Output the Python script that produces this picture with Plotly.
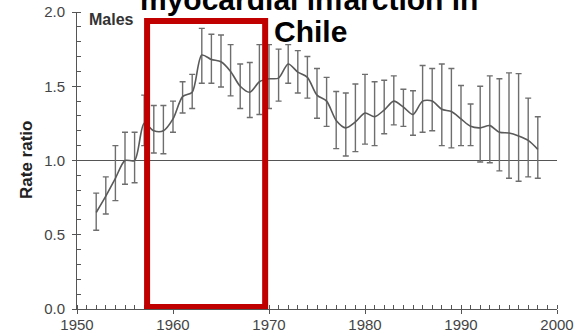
import plotly.graph_objects as go

# ---- data ----
years = list(range(1952, 1999))
rate_ratio = [0.65, 0.76, 0.88, 1.00, 1.00, 1.25, 1.20, 1.20, 1.28, 1.43,
              1.46, 1.71, 1.68, 1.665, 1.60, 1.50, 1.46, 1.53, 1.55, 1.555,
              1.65, 1.595, 1.56, 1.44, 1.40, 1.27, 1.22, 1.26, 1.32, 1.295,
              1.34, 1.40, 1.36, 1.31, 1.40, 1.40, 1.345, 1.33, 1.28, 1.23,
              1.22, 1.235, 1.19, 1.185, 1.165, 1.135, 1.075]
ci_upper = [0.78, 0.89, 1.10, 1.19, 1.19, 1.44, 1.37, 1.37, 1.40, 1.53,
            1.58, 1.89, 1.85, 1.845, 1.78, 1.65, 1.66, 1.78, 1.78, 1.75,
            1.78, 1.74, 1.70, 1.62, 1.56, 1.465, 1.455, 1.515, 1.58, 1.53,
            1.54, 1.57, 1.48, 1.47, 1.64, 1.62, 1.65, 1.62, 1.505, 1.38,
            1.50, 1.57, 1.55, 1.59, 1.585, 1.42, 1.295]
ci_lower = [0.53, 0.64, 0.73, 0.84, 0.85, 1.10, 1.05, 1.045, 1.19, 1.32,
            1.35, 1.52, 1.52, 1.495, 1.435, 1.35, 1.29, 1.31, 1.35, 1.40,
            1.52, 1.455, 1.42, 1.285, 1.23, 1.08, 1.03, 1.06, 1.11, 1.10,
            1.18, 1.24, 1.23, 1.17, 1.19, 1.20, 1.10, 1.085, 1.10, 1.10,
            0.99, 0.985, 0.93, 0.88, 0.86, 0.89, 0.88]
x_ticks = [1950, 1960, 1970, 1980, 1990, 2000]
y_ticks = [0.0, 0.5, 1.0, 1.5, 2.0]
reference_ratio = 1.0
highlight_years = [1957.3, 1969.6]
highlight_ratio = [0.013, 1.94]
title_lines = ["myocardial infarction in", "Chile"]
panel_label = "Males"
y_title = "Rate ratio"

err_plus = [u - v for u, v in zip(ci_upper, rate_ratio)]
err_minus = [v - l for v, l in zip(rate_ratio, ci_lower)]

FONT = "Liberation Sans, Arial, sans-serif"
AXIS_COLOR = "#555555"
TICK_TEXT = "#444444"

fig = go.Figure()
fig.add_trace(go.Scatter(
    x=years, y=rate_ratio, mode="lines",
    line=dict(color="#5a5a5a", width=1.6, shape="spline", smoothing=0.8),
    error_y=dict(type="data", symmetric=False, array=err_plus,
                 arrayminus=err_minus, color="#6e6e6e", thickness=1.4, width=3),
    showlegend=False, hoverinfo="skip",
))

fig.add_shape(type="line", xref="x", yref="y", x0=x_ticks[0], x1=x_ticks[-1],
              y0=reference_ratio, y1=reference_ratio,
              line=dict(color="#555555", width=1), layer="below")
fig.add_shape(type="rect", xref="x", yref="y",
              x0=highlight_years[0], x1=highlight_years[1],
              y0=highlight_ratio[0], y1=highlight_ratio[1],
              line=dict(color="#C00000", width=6), fillcolor="rgba(0,0,0,0)",
              layer="above")

L, R, T, B = 77, 20, 12, 24
W, H = 577, 333
pw, ph = W - L - R, H - T - B

def px(p):
    return (p - L) / pw

def py(q):
    return (H - B - q) / ph

fig.add_annotation(text="<b>" + title_lines[0] + "</b>", xref="paper", yref="paper",
                   x=px(309), y=py(18), xanchor="center", yanchor="bottom",
                   showarrow=False, font=dict(family=FONT, size=30, color="#000000"))
fig.add_annotation(text="<b>" + title_lines[1] + "</b>", xref="paper", yref="paper",
                   x=px(310), y=py(50), xanchor="center", yanchor="bottom",
                   showarrow=False, font=dict(family=FONT, size=30, color="#000000"))
fig.add_annotation(text="<b>" + panel_label + "</b>", xref="paper", yref="paper",
                   x=px(87), y=py(30), xanchor="left", yanchor="bottom",
                   showarrow=False, font=dict(family=FONT, size=16, color="#333333"))
fig.add_annotation(text="<b>" + y_title + "</b>", xref="paper", yref="paper",
                   x=px(26), y=py(160), xanchor="center", yanchor="middle",
                   textangle=-90, showarrow=False,
                   font=dict(family=FONT, size=17, color="#222222"))

common = dict(showgrid=False, zeroline=False, showline=True, linecolor=AXIS_COLOR,
              linewidth=1, tickcolor=AXIS_COLOR, tickwidth=1, automargin=False,
              tickfont=dict(family=FONT, size=15, color=TICK_TEXT))

fig.update_layout(
    width=W, height=H, margin=dict(l=L, r=R, t=T, b=B, autoexpand=False),
    paper_bgcolor="white", plot_bgcolor="white",
    xaxis=dict(range=[x_ticks[0], x_ticks[-1]], tickvals=x_ticks,
               ticks="outside", ticklen=4, ticklabelstandoff=-2,
               minor=dict(dtick=1, tick0=1950, ticks="inside", ticklen=4,
                          tickcolor=AXIS_COLOR, tickwidth=1),
               **common),
    yaxis=dict(range=[y_ticks[0], y_ticks[-1]], tickvals=y_ticks, tickformat=".1f",
               ticks="outside", ticklen=4, ticklabelstandoff=4,
               minor=dict(dtick=0.1, tick0=0, ticks="inside", ticklen=4,
                          tickcolor=AXIS_COLOR, tickwidth=1),
               **common),
    xaxis2=dict(overlaying="x", anchor="y", matches="x", range=[x_ticks[0], x_ticks[-1]],
                tickvals=x_ticks, ticks="inside", ticklen=3, showticklabels=False,
                showline=False, showgrid=False, zeroline=False, automargin=False,
                tickcolor=AXIS_COLOR, side="bottom"),
    yaxis2=dict(overlaying="y", anchor="x", matches="y", range=[y_ticks[0], y_ticks[-1]],
                tickvals=y_ticks, ticks="inside", ticklen=3, showticklabels=False,
                showline=False, showgrid=False, zeroline=False, automargin=False,
                tickcolor=AXIS_COLOR, side="left"),
)
fig.add_trace(go.Scatter(x=[], y=[], xaxis="x2", yaxis="y2", showlegend=False,
                         hoverinfo="skip"))

fig.write_html("out.html", config={"displayModeBar": False},
               post_script="document.body.style.margin='0';document.body.style.overflow='hidden';")
